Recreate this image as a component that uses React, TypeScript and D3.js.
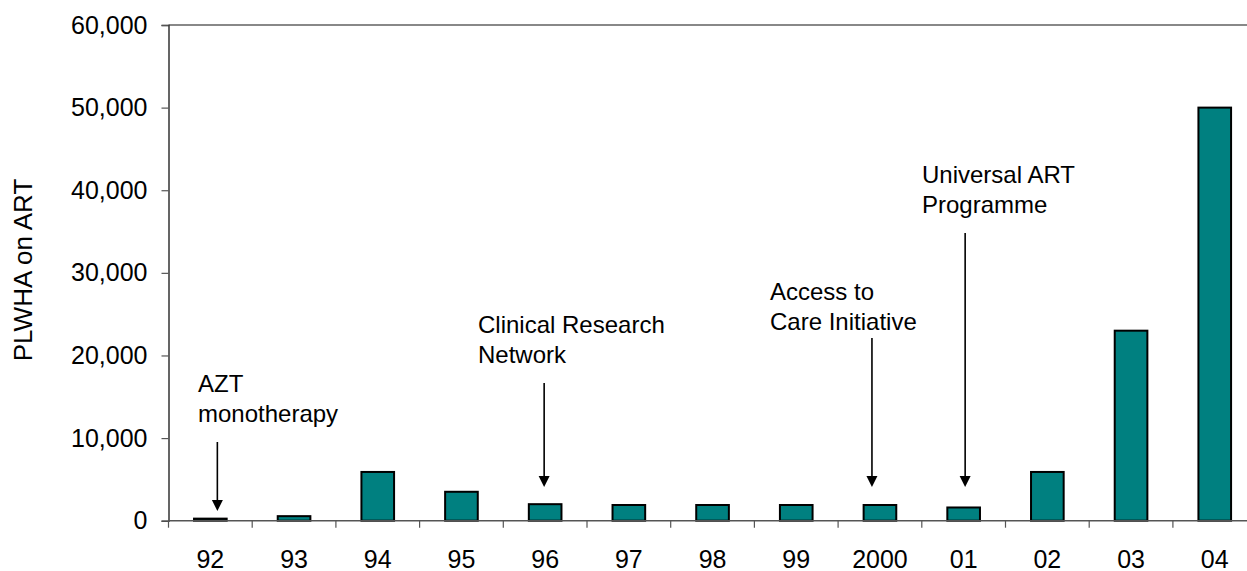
import React, { useEffect, useRef } from 'react';
import * as d3 from 'd3';

const years = ['92', '93', '94', '95', '96', '97', '98', '99', '2000', '01', '02', '03', '04'];
const onArt = [250, 550, 5900, 3500, 2000, 1900, 1900, 1900, 1900, 1600, 5900, 23000, 50000];
const yTicks = [0, 10000, 20000, 30000, 40000, 50000, 60000];
const annotationYears = ['92', '96', '2000', '01'];
const annotationLines = [
  ['AZT', 'monotherapy'],
  ['Clinical Research', 'Network'],
  ['Access to', 'Care Initiative'],
  ['Universal ART', 'Programme'],
];

const W = 1247;
const H = 571;
const FONT = '"Liberation Sans", Arial, sans-serif';

// hand-placed annotation geometry (text left, first baseline, arrow dx, arrow start/end)
const annotLayout = [
  { textX: 198, base: 392, dx: 7, y1: 442, y2: 511 },
  { textX: 478, base: 333, dx: -1, y1: 383, y2: 487 },
  { textX: 770, base: 300, dx: -8, y1: 338, y2: 487 },
  { textX: 922, base: 183, dx: 1.5, y1: 233, y2: 487 },
];

export default function App() {
  const svgRef = useRef<SVGSVGElement>(null);

  useEffect(() => {
    if (!svgRef.current) return;
    const svg = d3.select(svgRef.current);
    svg.selectAll('*').remove();

    const left = 168.5;
    const step = 83.7;
    const top = 25;
    const bottom = 520.7;
    const right = left + step * years.length;

    const xCat = d3.scaleBand<string>().domain(years).range([left, right]).padding(0);
    const x = d3.scaleBand<string>().domain(years).range([left, right])
      .paddingInner(0.61).paddingOuter(0.305);
    const y = d3.scaleLinear().domain([0, 60000]).range([bottom, top]);

    // top border
    svg.append('line')
      .attr('x1', left).attr('x2', W).attr('y1', top).attr('y2', top)
      .attr('stroke', '#888').attr('stroke-width', 2);

    // bars
    svg.append('g').selectAll('rect')
      .data(onArt)
      .join('rect')
      .attr('x', (_, i) => x(years[i])!)
      .attr('y', d => y(d))
      .attr('width', x.bandwidth())
      .attr('height', d => bottom - y(d))
      .attr('fill', '#008080')
      .attr('stroke', '#000')
      .attr('stroke-width', 2);

    // y axis
    const yAxis = svg.append('g')
      .attr('transform', `translate(${left},0)`)
      .call(d3.axisLeft(y).tickValues(yTicks).tickSize(7).tickPadding(14).tickFormat(d3.format(',')));
    yAxis.select('.domain').attr('stroke', '#333').attr('stroke-width', 1.5);
    yAxis.selectAll('.tick line').attr('stroke', '#555').attr('stroke-width', 1.2);
    yAxis.selectAll('.tick text')
      .attr('font-family', FONT).attr('font-size', 25).attr('fill', '#000');

    // x axis line + boundary ticks
    svg.append('line')
      .attr('x1', left).attr('x2', W).attr('y1', bottom).attr('y2', bottom)
      .attr('stroke', '#555').attr('stroke-width', 1.5);
    svg.append('g').selectAll('line')
      .data(years)
      .join('line')
      .attr('x1', d => xCat(d)!).attr('x2', d => xCat(d)!)
      .attr('y1', bottom).attr('y2', bottom + 7)
      .attr('stroke', '#555').attr('stroke-width', 1.2);
    svg.append('g').selectAll('text')
      .data(years)
      .join('text')
      .attr('x', d => xCat(d)! + xCat.bandwidth() / 2)
      .attr('y', 567.5)
      .attr('text-anchor', 'middle')
      .attr('font-family', FONT).attr('font-size', 25)
      .text(d => d);

    // y title
    svg.append('text')
      .attr('transform', 'translate(32,270) rotate(-90)')
      .attr('text-anchor', 'middle')
      .attr('font-family', FONT).attr('font-size', 26)
      .text('PLWHA on ART');

    // annotations
    annotationYears.forEach((yr, i) => {
      const a = annotLayout[i];
      const ax = xCat(yr)! + xCat.bandwidth() / 2 + a.dx;
      const t = svg.append('text')
        .attr('font-family', FONT).attr('font-size', 24).attr('fill', '#000');
      annotationLines[i].forEach((line, j) => {
        t.append('tspan').attr('x', a.textX).attr('y', a.base + j * 29.5).text(line);
      });
      svg.append('line')
        .attr('x1', ax).attr('x2', ax).attr('y1', a.y1).attr('y2', a.y2 - 10)
        .attr('stroke', '#000').attr('stroke-width', 1.6);
      svg.append('path')
        .attr('d', `M${ax - 5.5},${a.y2 - 11}L${ax + 5.5},${a.y2 - 11}L${ax},${a.y2}Z`)
        .attr('fill', '#000');
    });
  }, []);

  return (
    <svg
      ref={svgRef}
      width={W}
      height={H}
      style={{ position: 'absolute', left: 0, top: 0, background: '#fff' }}
    />
  );
}
